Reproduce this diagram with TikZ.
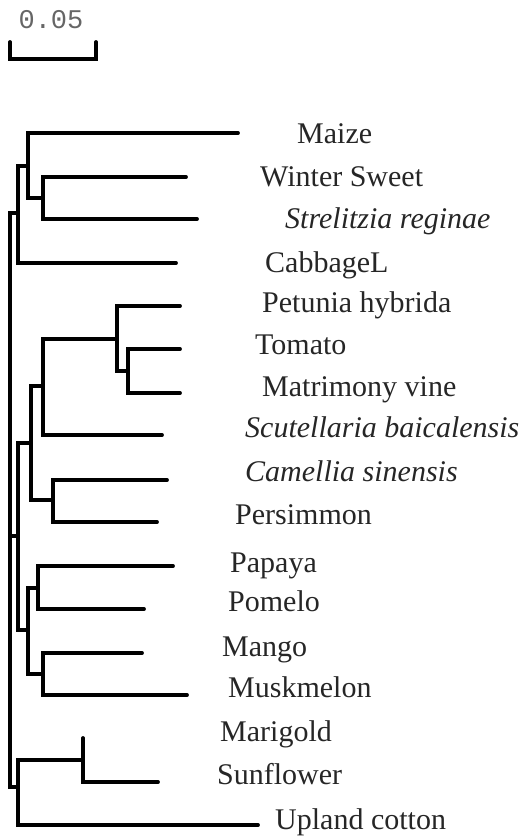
\documentclass[tikz,border=0pt]{standalone}
\usepackage{fontspec}
\setmainfont{Liberation Serif}
\newfontfamily\barfont{Liberation Mono}
\begin{document}
\begin{tikzpicture}[x=1pt, y=-1pt,
    branch/.style={line width=3.8pt, line cap=round, line join=miter},
    taxon/.style={anchor=base west, inner sep=0pt, text=black!85, font=\fontsize{30}{36}\selectfont},
    sptaxon/.style={taxon, font=\fontsize{30}{36}\selectfont\itshape}]
    \useasboundingbox (0,0) rectangle (525,839);

    % --- SCALE BAR ---
    \node[inner sep=0pt, text=black!60, font=\barfont\fontsize{27}{30}\selectfont] (barlabel) at (51,20) {0.05};
    \coordinate (barL) at (10,42);
    \coordinate (barR) at (96,42);
    \draw[branch] (barL) -- ++(0,17) -| (barR);

    % --- INNER NODES ---
    \coordinate (root) at (10,536);
    \coordinate (nA)   at (18,213);
    \coordinate (nA1)  at (28,166);
    \coordinate (nA2)  at (43,198);
    \coordinate (nB)   at (18,536);
    \coordinate (nB1)  at (31,443);
    \coordinate (nB11) at (43,386);
    \coordinate (nB111) at (117,339);
    \coordinate (nB1111) at (128,371);
    \coordinate (nB12) at (53,500);
    \coordinate (nB2)  at (28,630);
    \coordinate (nB21) at (38,588);
    \coordinate (nB22) at (43,674);
    \coordinate (nC)   at (18,787);
    \coordinate (nC1)  at (83,760);

    % --- TIPS ---
    \coordinate (tMaize)   at (238,133);
    \coordinate (tWinter)  at (186,177);
    \coordinate (tStrel)   at (197,219);
    \coordinate (tCabbage) at (176,263);
    \coordinate (tPetunia) at (180,306);
    \coordinate (tTomato)  at (180,349);
    \coordinate (tMatri)   at (180,393);
    \coordinate (tScut)    at (162,435);
    \coordinate (tCamel)   at (167,480);
    \coordinate (tPersim)  at (157,522);
    \coordinate (tPapaya)  at (173,566);
    \coordinate (tPomelo)  at (144,609);
    \coordinate (tMango)   at (142,653);
    \coordinate (tMusk)    at (187,695);
    \coordinate (tMari)    at (83,738);
    \coordinate (tSun)     at (158,782);
    \coordinate (tCotton)  at (258,825);

    % --- BRANCHES ---
    \foreach \p/\c in {root/nA, root/nB, root/nC,
        nA/nA1, nA/tCabbage, nA1/tMaize, nA1/nA2, nA2/tWinter, nA2/tStrel,
        nB/nB1, nB/nB2, nB1/nB11, nB1/nB12, nB11/nB111, nB11/tScut,
        nB111/tPetunia, nB111/nB1111, nB1111/tTomato, nB1111/tMatri,
        nB12/tCamel, nB12/tPersim, nB2/nB21, nB2/nB22,
        nB21/tPapaya, nB21/tPomelo, nB22/tMango, nB22/tMusk,
        nC/nC1, nC/tCotton, nC1/tMari, nC1/tSun}
        \draw[branch] (\p) |- (\c);

    % --- LABELS ---
    \node[taxon]   (lMaize)   at (297,143) {Maize};
    \node[taxon]   (lWinter)  at (260,186) {Winter Sweet};
    \node[sptaxon] (lStrel)   at (285,228) {Strelitzia reginae};
    \node[taxon]   (lCabbage) at (265,272) {CabbageL};
    \node[taxon]   (lPetunia) at (262,312) {Petunia hybrida};
    \node[taxon]   (lTomato)  at (255,354) {Tomato};
    \node[taxon]   (lMatri)   at (262,396) {Matrimony vine};
    \node[sptaxon] (lScut)    at (245,437) {Scutellaria baicalensis};
    \node[sptaxon] (lCamel)   at (245,481) {Camellia sinensis};
    \node[taxon]   (lPersim)  at (235,524) {Persimmon};
    \node[taxon]   (lPapaya)  at (230,572) {Papaya};
    \node[taxon]   (lPomelo)  at (228,611) {Pomelo};
    \node[taxon]   (lMango)   at (222,656) {Mango};
    \node[taxon]   (lMusk)    at (228,697) {Muskmelon};
    \node[taxon]   (lMari)    at (220,741) {Marigold};
    \node[taxon]   (lSun)     at (217,784) {Sunflower};
    \node[taxon]   (lCotton)  at (275,829) {Upland cotton};
\end{tikzpicture}
\end{document}
